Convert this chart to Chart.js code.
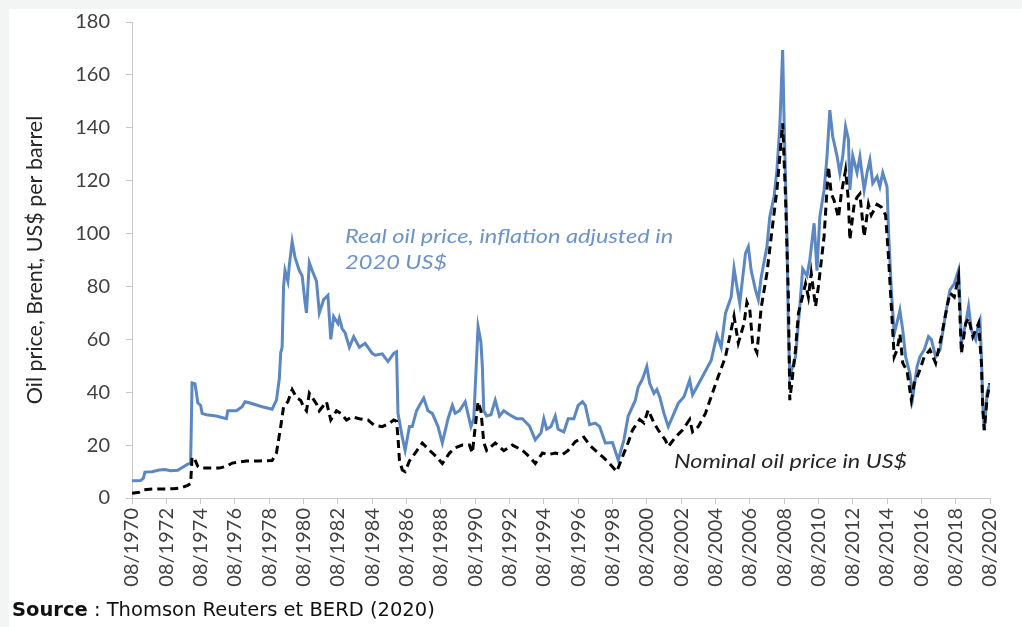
<!DOCTYPE html>
<html>
<head>
<meta charset="utf-8">
<script src="https://cdn.jsdelivr.net/npm/chart.js@4.4.1/dist/chart.umd.min.js"></script>
<style>
html,body{margin:0;padding:0;background:#f3f4f4;width:1022px;height:627px;overflow:hidden}
#panel{position:absolute;left:9px;top:9px;width:1013px;height:618px;background:#fff}
#wrap{position:absolute;left:0;top:0;width:1013px;height:590px}
#source{position:absolute;left:3px;top:589px;font-family:"DejaVu Sans",sans-serif;font-size:19.5px;line-height:24px;color:#111;white-space:nowrap}
</style>
</head>
<body>
<div id="panel">
  <div id="wrap"><canvas id="c" width="1013" height="590"></canvas></div>
  <div id="source"><b>Source</b> : Thomson Reuters et BERD (2020)</div>
</div>
<script>
// ---- data ----
const realMonths = ["1970-08","1971-02","1971-04","1971-05","1971-10","1972-03","1972-07","1972-11","1973-04","1973-08","1973-11","1974-01","1974-02","1974-04","1974-05","1974-06","1974-08","1974-09","1974-12","1975-07","1976-02","1976-03","1976-09","1977-01","1977-03","1977-06","1978-03","1978-10","1979-01","1979-03","1979-04","1979-05","1979-06","1979-07","1979-09","1979-10","1979-12","1980-02","1980-05","1980-07","1980-09","1980-10","1980-12","1981-02","1981-05","1981-07","1981-10","1982-01","1982-03","1982-05","1982-08","1982-09","1982-11","1983-01","1983-04","1983-07","1983-11","1984-03","1984-08","1984-10","1985-03","1985-07","1985-11","1986-01","1986-02","1986-05","1986-07","1986-10","1986-12","1987-03","1987-05","1987-08","1987-11","1988-02","1988-06","1988-09","1989-01","1989-04","1989-06","1989-09","1990-01","1990-05","1990-07","1990-10","1990-12","1991-01","1991-02","1991-04","1991-07","1991-10","1992-01","1992-04","1992-08","1993-01","1993-05","1993-10","1994-02","1994-06","1994-08","1994-10","1995-01","1995-04","1995-06","1995-10","1996-01","1996-05","1996-08","1996-11","1997-01","1997-04","1997-08","1997-11","1998-03","1998-08","1998-12","1999-04","1999-07","1999-12","2000-02","2000-05","2000-08","2000-10","2001-01","2001-03","2001-05","2001-08","2001-11","2002-03","2002-06","2002-10","2003-02","2003-04","2003-07","2003-12","2004-05","2004-09","2004-12","2005-03","2005-07","2005-09","2005-11","2006-01","2006-05","2006-07","2006-09","2006-12","2007-02","2007-04","2007-08","2007-10","2008-01","2008-03","2008-05","2008-07","2008-08","2008-10","2008-11","2008-12","2009-04","2009-07","2009-09","2009-12","2010-02","2010-05","2010-07","2010-09","2010-12","2011-02","2011-04","2011-06","2011-09","2011-11","2012-01","2012-03","2012-05","2012-06","2012-08","2012-11","2013-01","2013-04","2013-06","2013-08","2013-10","2014-01","2014-03","2014-05","2014-08","2014-09","2014-11","2015-01","2015-04","2015-05","2015-07","2015-09","2015-12","2016-02","2016-05","2016-07","2016-10","2017-01","2017-03","2017-06","2017-09","2018-01","2018-04","2018-07","2018-10","2018-11","2018-12","2019-03","2019-05","2019-07","2019-10","2019-12","2020-01","2020-02","2020-03","2020-04","2020-06","2020-08"];
const realPrice = [6.5,6.6,7.5,9.8,9.9,10.6,10.8,10.3,10.5,11.8,12.8,13.2,43.5,43.2,40,36,35,32,31.5,31,30,33,33,34.5,36.4,36,34.5,33.6,37,45,55,57,80,86,82,88,97,91,86,84,74,70,89,86,82,70,75,76.6,60,68.6,66,68,64,62.5,57,61,57,58.5,54.7,54,54.5,51.6,54.7,55.3,32,23,18,27,27,33,35,37.8,33,32,27,20.8,30,35,32,33,36.4,27,30,64.8,59,49.7,33,31,31.5,37,31,33,31.5,30,30,27.2,22,24.6,30,26,27,31,26,25,30,30,35,36.4,35,27.7,28.3,27,20.8,21,14.4,22,31,37,42,45,49.7,43.4,39.6,41,38.3,32,27,32,35.8,38.3,44.6,39,42,47,52,61.6,57,69.8,76,86.9,80,73.6,92.5,95,86,78.7,75,83.5,95,106.4,114,124,140.4,169.4,143,98.8,63.5,45.9,53.4,72.4,86.6,84,90,103.9,86,106.4,116.5,129,146.7,136.7,129.4,122.8,129,140.4,135.6,116.5,129.4,123,129,116.5,123,127.8,119,121.5,117.7,123,117.7,101.4,78.7,62,68.6,71,63.5,53.4,47,38.3,49.7,53.4,56,61,59.9,53.4,56,69.8,78.7,81,86.2,73.6,58.6,66,72.4,63.5,59.9,66,67.4,53.4,34.5,25.7,40,43.4];

const nominalMonths = ["1970-08","1971-01","1971-04","1971-11","1972-06","1973-01","1973-06","1973-11","1974-01","1974-02","1974-04","1974-06","1974-08","1975-09","1976-02","1976-06","1977-04","1978-01","1978-10","1979-01","1979-04","1979-06","1979-09","1979-11","1979-12","1980-03","1980-06","1980-08","1980-10","1980-12","1981-02","1981-05","1981-07","1981-12","1982-03","1982-07","1982-10","1983-02","1983-06","1983-11","1984-05","1984-09","1985-03","1985-08","1985-11","1986-01","1986-02","1986-03","1986-05","1986-07","1986-10","1987-02","1987-07","1987-12","1988-05","1988-09","1989-02","1989-06","1989-11","1990-04","1990-06","1990-10","1990-12","1991-02","1991-04","1991-10","1992-04","1992-10","1993-05","1993-10","1994-02","1994-07","1994-11","1995-04","1995-09","1996-01","1996-06","1996-12","1997-04","1997-08","1998-01","1998-05","1998-11","1999-03","1999-07","1999-10","2000-03","2000-06","2000-09","2001-01","2001-04","2001-09","2001-11","2002-04","2002-09","2003-02","2003-04","2003-08","2004-01","2004-05","2004-10","2005-03","2005-06","2005-09","2005-12","2006-04","2006-06","2006-08","2006-10","2007-01","2007-04","2007-08","2007-11","2008-03","2008-07","2008-09","2008-11","2008-12","2009-04","2009-06","2009-11","2010-01","2010-03","2010-06","2010-08","2010-12","2011-03","2011-05","2011-07","2011-10","2011-12","2012-03","2012-05","2012-06","2012-09","2012-11","2013-01","2013-04","2013-07","2013-09","2014-01","2014-04","2014-07","2014-09","2014-11","2015-01","2015-03","2015-05","2015-07","2015-10","2016-01","2016-03","2016-06","2016-10","2017-02","2017-06","2017-10","2018-02","2018-04","2018-07","2018-10","2018-11","2018-12","2019-03","2019-05","2019-08","2019-12","2020-02","2020-03","2020-04","2020-06","2020-08"];
const nominalPrice = [1.8,2.2,3.1,3.4,3.4,3.5,3.8,4.8,5.5,15.5,14.5,12,11.3,11.3,12,13.2,14,14,14.2,17,27,34.5,36.4,39.6,41,38,36.9,34.5,33,39.6,38,35.6,33,36.4,29.5,33,32,29.5,30.7,30,29.5,27.6,27,28.3,29.5,29,23,14.4,10.6,10,14,17,20.8,18,15.6,13,17,19,20,20,17,36.4,33,21,18,20.8,17.9,20,18,15.6,13,17,16.4,17,16.4,18,21.3,23,20,18,15.6,13.6,10,15.6,21,25.7,29.7,28.4,33.3,28.4,25.7,21.9,19.4,23,25.7,29.7,25,27,32,38.3,46,53.4,61,68.7,58.6,66,74,71.4,58.6,55,72,85,98.8,116.5,141.7,114,76,37,56,69.8,81,76,85,72.4,80,99,125.3,115,112.5,106,115,124,112.5,97.6,111,113.7,115,98.8,111,107,111,110,107,91.3,72.4,53.4,56,62,51,48,37,43.4,47,53.4,56,51,61,72.4,77.5,76,83.7,68.6,54.7,66,68,61,66,51,33.3,25.7,38,43.4];

const xTickLabels = ["08/1970","08/1972","08/1974","08/1976","08/1978","08/1980","08/1982","08/1984","08/1986","08/1988","08/1990","08/1992","08/1994","08/1996","08/1998","08/2000","08/2002","08/2004","08/2006","08/2008","08/2010","08/2012","08/2014","08/2016","08/2018","08/2020"];
const yTicks = [0,20,40,60,80,100,120,140,160,180];

const seriesNames = ["Nominal oil price in US$", "Real oil price, inflation adjusted in 2020 US$"];
const realNoteLines = ["Real oil price, inflation adjusted in", "2020 US$"];
const nominalNote = "Nominal oil price in US$";

// month index counted from 08/1970
const toIdx = s => { const [yy, mm] = s.split('-').map(Number); return (yy - 1970) * 12 + (mm - 8); };

const BLUE = '#5B87C2';

function stretchedText(ctx, text, px, py, sx) {
  ctx.save();
  ctx.translate(px, py);
  ctx.scale(sx, 1);
  ctx.fillText(text, 0, 0);
  ctx.restore();
}

const notes = {
  id: 'notes',
  afterDatasetsDraw(chart) {
    const {ctx, scales: {x, y}} = chart;
    ctx.save();
    ctx.textBaseline = 'middle';
    ctx.textAlign = 'left';
    ctx.font = 'italic 20px Lato';
    ctx.fillStyle = '#6B93CB';
    const rx = x.getPixelForValue(toIdx('1983-01'));
    stretchedText(ctx, realNoteLines[0], rx, y.getPixelForValue(98.7), 1.18);
    stretchedText(ctx, realNoteLines[1], rx, y.getPixelForValue(88.9), 1.18);
    ctx.fillStyle = '#262626';
    stretchedText(ctx, nominalNote, x.getPixelForValue(toIdx('2002-03')), y.getPixelForValue(13.6), 1.17);
    ctx.restore();
  }
};

const noAutoPad = s => { s.paddingLeft = 0; s.paddingRight = 0; s.paddingTop = 0; s.paddingBottom = 0; };

new Chart(document.getElementById('c'), {
  type: 'line',
  data: {
    datasets: [
      {
        label: seriesNames[0],
        data: nominalMonths.map((d, i) => ({x: toIdx(d), y: nominalPrice[i]})),
        borderColor: '#000000',
        borderWidth: 3,
        borderDash: [8, 5],
        pointRadius: 0,
        tension: 0,
        fill: false
      },
      {
        label: seriesNames[1],
        data: realMonths.map((d, i) => ({x: toIdx(d), y: realPrice[i]})),
        borderColor: BLUE,
        borderWidth: 3,
        pointRadius: 0,
        tension: 0,
        fill: false
      }
    ]
  },
  options: {
    responsive: false,
    animation: false,
    layout: {padding: {top: 13, right: 32, left: 0, bottom: 0}},
    plugins: {legend: {display: false}, tooltip: {enabled: false}},
    scales: {
      x: {
        type: 'linear',
        min: 0,
        max: (xTickLabels.length - 1) * 24,
        afterBuildTicks: s => { s.ticks = xTickLabels.map((l, i) => ({value: i * 24})); },
        ticks: {
          autoSkip: false, maxRotation: 90, minRotation: 90,
          callback: (v, i) => xTickLabels[i],
          font: {family: 'Lato', size: 20}, color: '#404040', padding: 4
        },
        grid: {drawOnChartArea: false, tickLength: 6, color: '#c8c8c8'},
        border: {color: '#c8c8c8'},
        afterFit: s => { s.height = 101; noAutoPad(s); }
      },
      y: {
        min: yTicks[0],
        max: yTicks[yTicks.length - 1],
        afterBuildTicks: s => { s.ticks = yTicks.map(v => ({value: v})); },
        ticks: {font: {family: 'Lato', size: 20}, color: '#404040', padding: 16},
        grid: {drawOnChartArea: false, tickLength: 6, color: '#c8c8c8'},
        border: {color: '#c8c8c8'},
        title: {display: true, text: 'Oil price, Brent, US$ per barrel', font: {family: 'Lato', size: 21.5}, color: '#262626', padding: {top: 13, bottom: 0}},
        afterFit: s => { s.width = 123; noAutoPad(s); }
      }
    }
  },
  plugins: [notes]
});
</script>
</body>
</html>
